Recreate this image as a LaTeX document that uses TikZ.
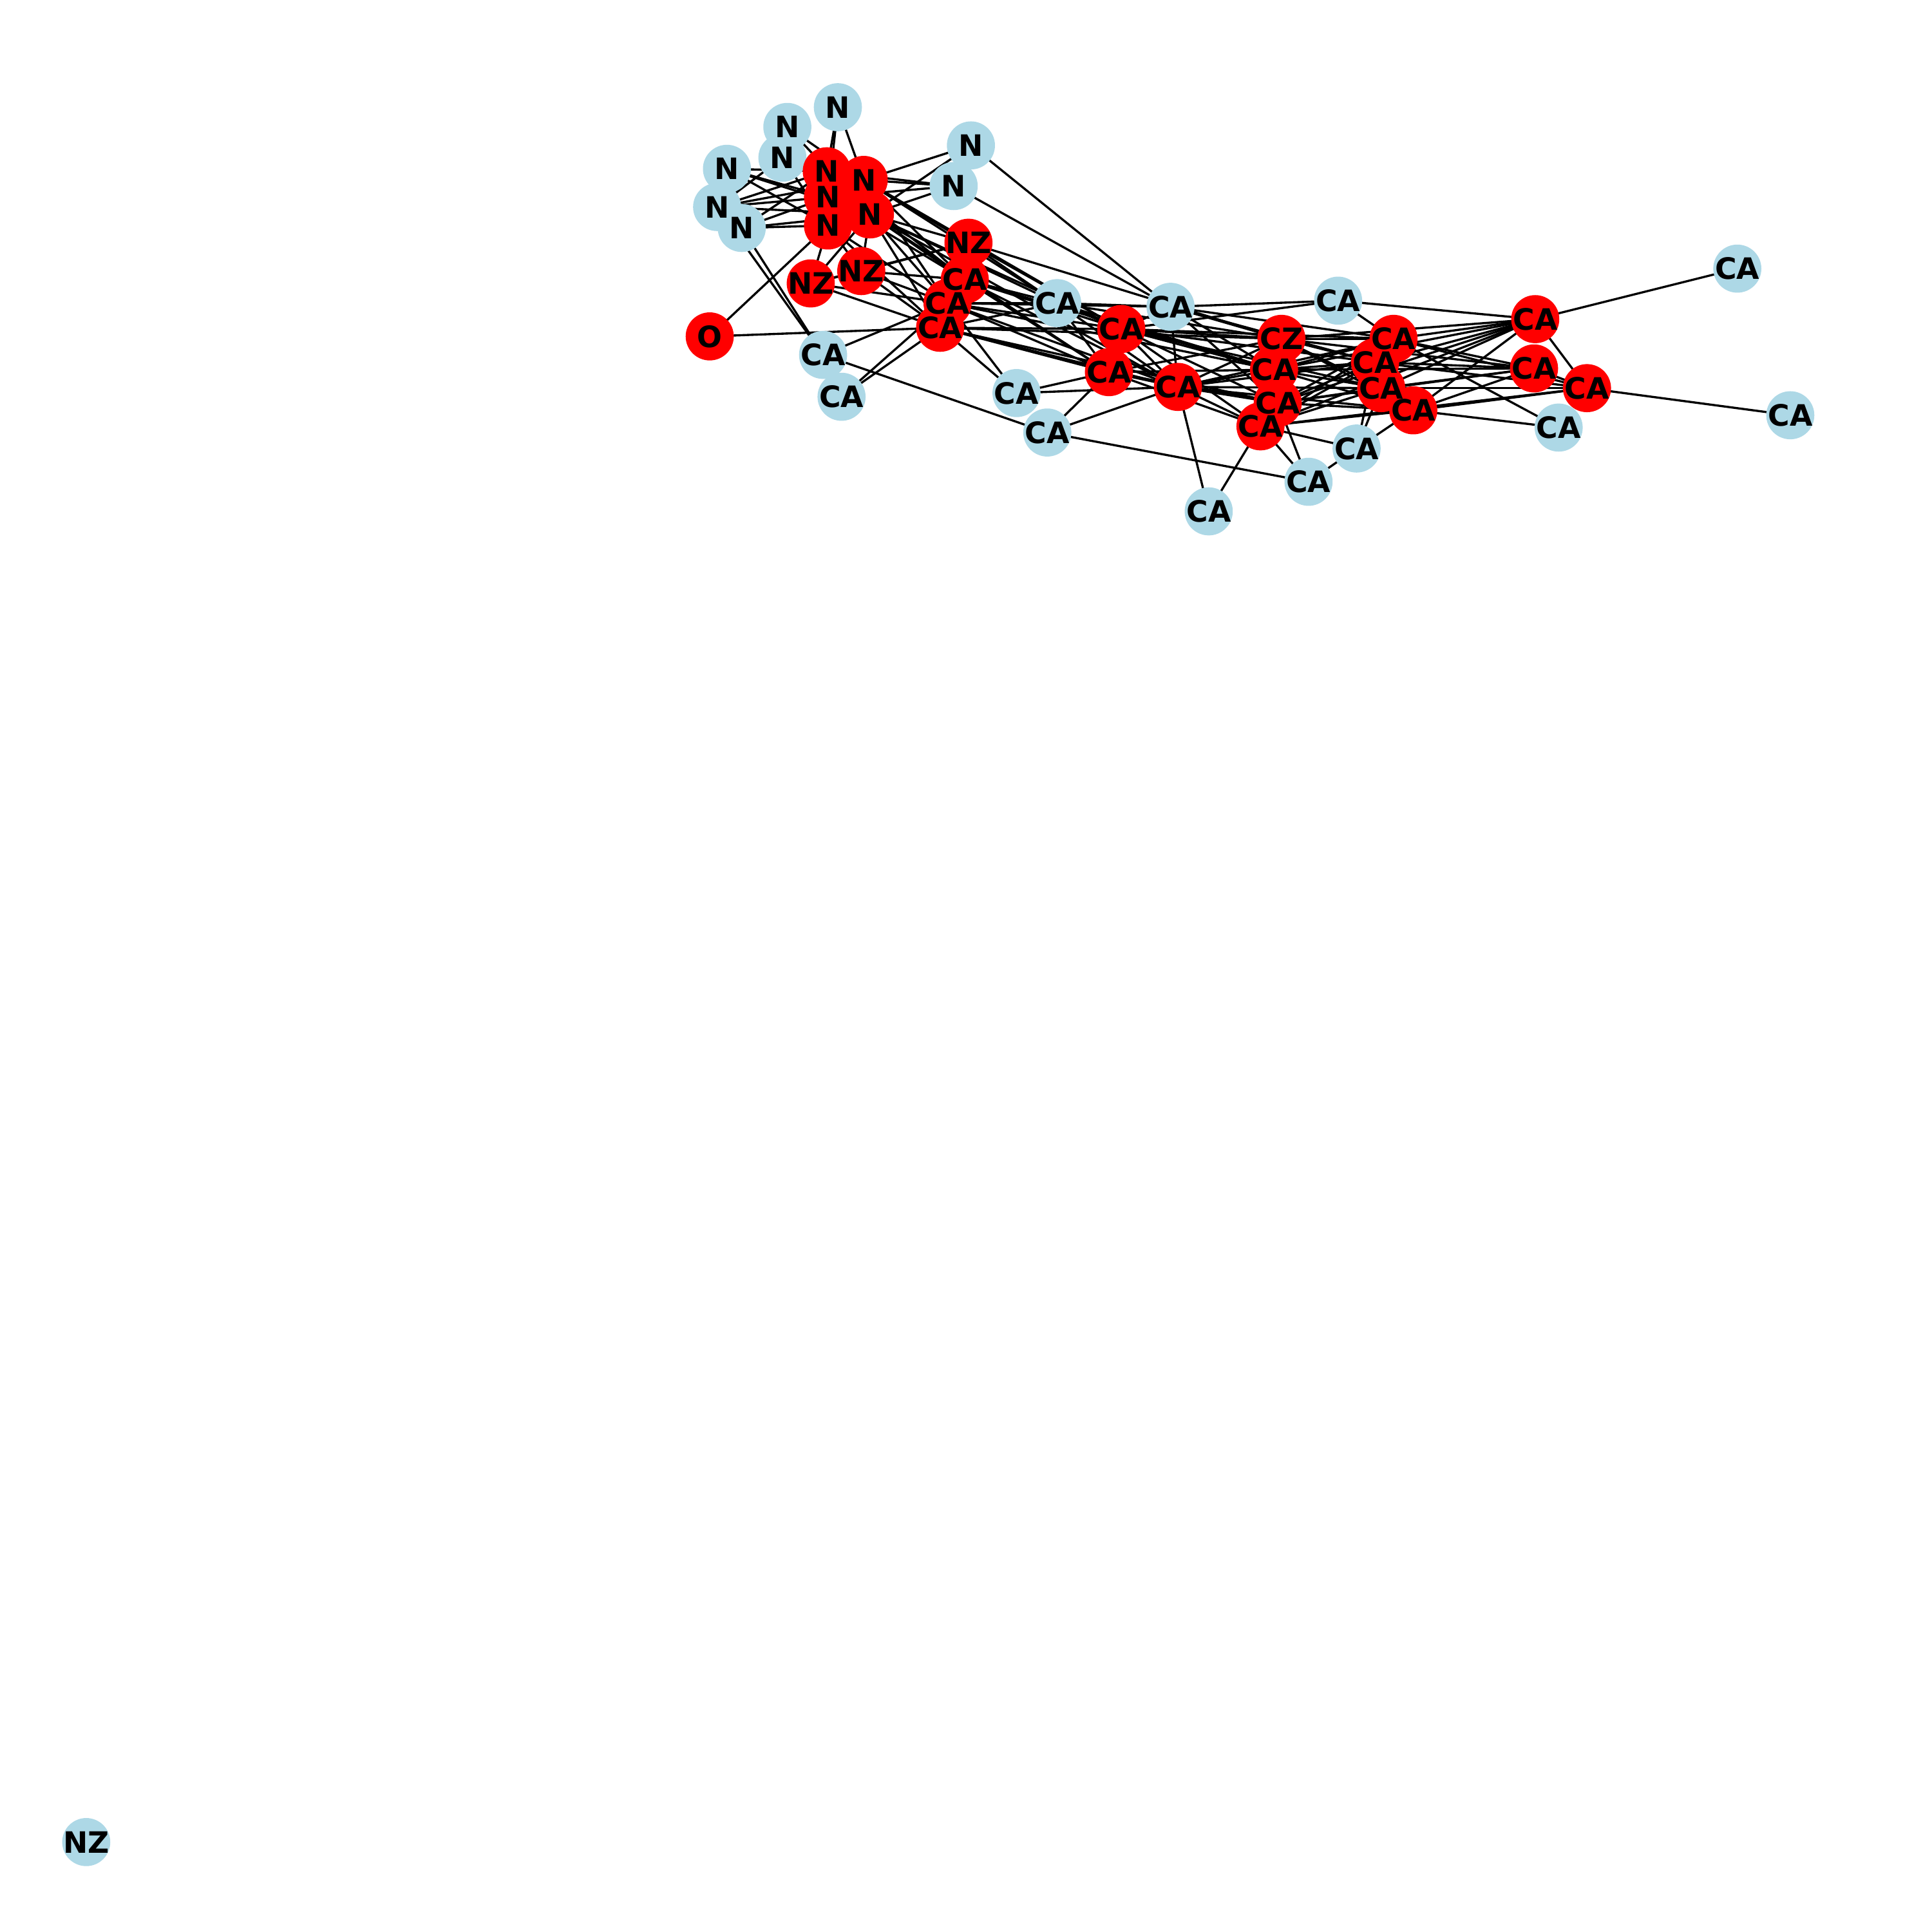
\documentclass[tikz,border=0pt]{standalone}
\usepackage{fontspec}
\setsansfont{DejaVu Sans}
\definecolor{lblue}{HTML}{ADD8E6}
\pgfdeclarelayer{bg}
\pgfsetlayers{bg,main}
\tikzset{
	atom/.style={circle,fill=#1,minimum size=0.39cm,inner sep=0pt},
	lbl/.style={font=\sffamily\bfseries\fontsize{6.8}{7}\selectfont,inner sep=0pt},
	bond/.style={line width=0.5pt,line cap=round}
}
\begin{document}
\begin{tikzpicture}[x=0.01cm,y=0.01cm]
			\useasboundingbox (0,0) rectangle (1568,-1568);
			% atoms: name/x/y/colour/label
			\def\atoms{n1/680/87/lblue/N, n2/639/103/lblue/N, n3/635/128/lblue/N, n4/590/137/lblue/N,
				n5/582/168/lblue/N, n6/602/185/lblue/N, n7/788/118/lblue/N, n8/774/151/lblue/N,
				a1/858/246/lblue/CA, a2/950/249/lblue/CA, a3/1086/244/lblue/CA, a4/1410/218/lblue/CA,
				a5/668/288/lblue/CA, a6/683/322/lblue/CA, a7/825/319/lblue/CA, a8/850/351/lblue/CA,
				a9/981/415/lblue/CA, a10/1062/391/lblue/CA, a11/1101/364/lblue/CA, a12/1265/347/lblue/CA,
				a13/1453/337/lblue/CA, z4/70/1495/lblue/NZ,
				m1/671/139/red/N, m2/701/146/red/N, m3/672/160/red/N, m4/672/183/red/N, m5/706/174/red/N,
				z1/786/197/red/NZ, z2/699/220/red/NZ, z3/658/230/red/NZ,
				r1/783/227/red/CA, r2/769/246/red/CA, r3/763/266/red/CA, o/576/273/red/O,
				r4/910/267/red/CA, r5/900/302/red/CA, r6/956/314/red/CA, cz/1040/275/red/CZ,
				r7/1131/275/red/CA, r8/1034/300/red/CA, r9/1116/294/red/CA, r10/1245/299/red/CA,
				r11/1037/327/red/CA, r12/1121/315/red/CA, r13/1288/315/red/CA, r14/1023/346/red/CA,
				r15/1147/333/red/CA, r16/1246/259/red/CA}
			\foreach \nm/\x/\y/\col/\txt in \atoms
				\node[atom=\col] (\nm) at (\x,-\y) {};
			
			\begin{pgfonlayer}{bg}
			% outer N atoms
			\foreach \p/\q in {n1/m1, n1/m3, n1/m2, n2/m2, n2/m5, n3/m2, n3/m4, n5/n3,
				n4/m1, n4/m3, n4/m5, n4/m4, n5/m1, n5/m3, n5/m5, n5/m2,
				n6/m4, n6/m3, n6/m5, n6/m1, n6/a5, n5/a5,
				n7/m2, n7/m5, n7/a2, n8/m2, n8/m1, n8/m3, n8/m5, n8/a2}
				\draw[bond] (\p.center) -- (\q.center);
			% red N, NZ and first CA group
			\foreach \p/\q in {m1/m2, m1/m3, m2/m5, m3/m4, m4/m5, m3/m5, m2/m3,
				m4/z3, m4/z2, m5/z2, m4/o, m5/z1, m2/z1,
				m5/r1, m5/r2, m5/r3, m2/r1, m2/r2, m5/a1, m2/a1, m5/r4, m5/r5,
				m3/r1, m4/r2, m4/r3, m1/r1, m5/r6, m2/r4,
				z1/r1, z1/r2, z2/r1, z2/r2, z2/r3, z3/r2, z3/r3, z2/z1, z3/z1, z2/z3, z3/m5,
				z1/a1, z1/r4, z1/cz,
				r1/r2, r2/r3, r1/r3, r1/a1, r2/a1, r3/a1, r1/r4, r2/r4, r3/r4,
				r3/r5, r2/r5, r1/r5, r3/r6, r2/r6, r1/r6, r2/a2, r3/cz, r2/r8, r1/r8, r3/r11,
				o/r3, a5/r2, a6/r3, a6/r2, a7/r3, a7/r2, a7/r5, a7/r6,
				a8/r5, a8/r6, a5/a8, a8/a10}
				\draw[bond] (\p.center) -- (\q.center);
			% middle and right CA groups
			\foreach \p/\q in {a1/r4, a1/r5, a1/r6, a1/cz, a1/r8, a1/a2,
				a2/a3, a2/r6, a2/cz, a2/r7, a2/r8, a2/r9, a2/r4, a2/r11,
				a3/r4, a3/r7, a3/r16,
				r4/r5, r4/r6, r4/cz, r4/r8, r4/r11, r4/r14, r4/r9, r4/r12, r4/r7,
				r5/r6, r5/r8, r5/r11, r5/r14, r5/cz,
				r6/cz, r6/r8, r6/r11, r6/r14, r6/r9, r6/r12, r6/r15, r6/r7,
				cz/r8, cz/r7, cz/r9, cz/r12, cz/r15, cz/r10, cz/r16,
				r8/r11, r8/r7, r8/r9, r8/r12, r8/r15, r8/r10, r8/r16,
				r11/r14, r11/r9, r11/r12, r11/r15, r11/r10, r11/r16, r11/r7,
				r14/r9, r14/r12, r14/r15, r14/r7, r14/r16, r14/r13,
				r7/r9, r7/r12, r7/r16, r7/r10, r7/r13,
				r9/r12, r9/r15, r9/r10, r9/r16, r9/r13,
				r12/r15, r12/r10, r12/r13, r12/r16,
				r15/r10, r15/r13, r15/r16, r10/r13, r16/r13,
				a4/r16, a13/r13, a12/r15, a12/r7,
				a11/r14, a11/r12, a11/r9, a11/r15, a11/a10,
				a10/r14, a10/r11, a9/r6, a9/r14}
				\draw[bond] (\p.center) -- (\q.center);
			\end{pgfonlayer}
			
			\foreach \nm/\x/\y/\col/\txt in \atoms
				\node[lbl] at (\nm) {\txt};
		\end{tikzpicture}
\end{document}
